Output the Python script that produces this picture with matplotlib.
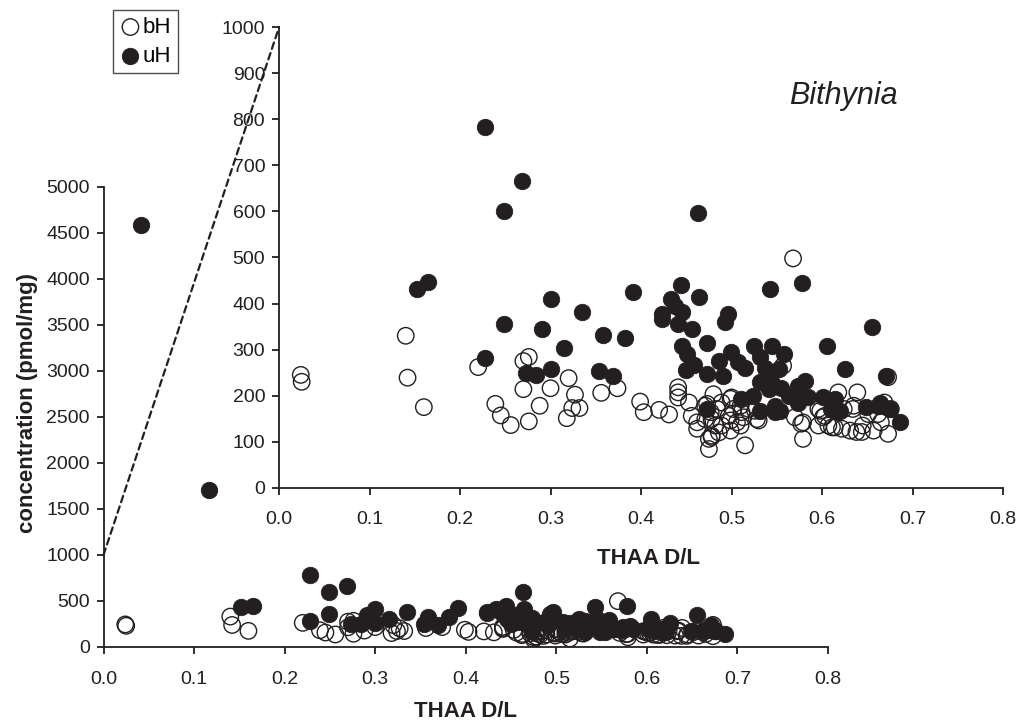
import matplotlib
matplotlib.use("Agg")
import matplotlib.pyplot as plt
from matplotlib.patches import ConnectionPatch

plt.rcParams['font.family'] = ['Liberation Sans', 'DejaVu Sans']

INK = '#231f20'

# bH (open) and uH (filled) concentrations against THAA D/L
bh_x = [0.024, 0.025, 0.140, 0.142, 0.160, 0.220, 0.239, 0.245, 0.256, 0.270,
        0.276, 0.270, 0.276, 0.300, 0.320, 0.327, 0.288, 0.318, 0.324, 0.332,
        0.356, 0.374, 0.399, 0.403, 0.420, 0.431, 0.441, 0.441, 0.441, 0.453,
        0.456, 0.462, 0.462, 0.473, 0.477, 0.478, 0.480, 0.475, 0.478, 0.475,
        0.568, 0.500, 0.489, 0.471, 0.511, 0.497, 0.506, 0.482, 0.478, 0.515,
        0.528, 0.557, 0.570, 0.579, 0.579, 0.596, 0.603, 0.596, 0.611, 0.622,
        0.618, 0.634, 0.639, 0.644, 0.657, 0.669, 0.673, 0.484, 0.499, 0.502,
        0.510, 0.519, 0.526, 0.530, 0.513, 0.499, 0.489, 0.471, 0.486, 0.499,
        0.510, 0.577, 0.598, 0.601, 0.607, 0.614, 0.631, 0.638, 0.645, 0.665,
        0.676, 0.662, 0.651, 0.635, 0.624, 0.673]
bh_y = [245, 230, 330, 239, 175, 262, 182, 157, 136, 275,
        284, 214, 144, 216, 238, 202, 178, 151, 173, 173,
        206, 216, 187, 164, 169, 159, 218, 207, 196, 185,
        156, 142, 128, 182, 164, 149, 203, 106, 110, 84,
        498, 196, 185, 178, 164, 156, 142, 135, 113, 92,
        149, 265, 153, 142, 106, 171, 156, 135, 131, 128,
        207, 171, 207, 121, 124, 185, 117, 171, 193, 171,
        178, 171, 167, 146, 153, 146, 135, 149, 120, 124,
        135, 139, 167, 153, 135, 131, 124, 121, 135, 142,
        171, 160, 160, 178, 171, 240]

uh_x = [0.041, 0.116, 0.228, 0.269, 0.249, 0.152, 0.165, 0.249, 0.228, 0.273,
        0.463, 0.444, 0.300, 0.391, 0.335, 0.433, 0.464, 0.438, 0.445, 0.423,
        0.423, 0.441, 0.456, 0.496, 0.493, 0.291, 0.315, 0.358, 0.382, 0.473,
        0.445, 0.451, 0.458, 0.450, 0.473, 0.486, 0.300, 0.284, 0.354, 0.369,
        0.473, 0.543, 0.578, 0.655, 0.605, 0.525, 0.545, 0.558, 0.499, 0.507,
        0.515, 0.532, 0.537, 0.552, 0.491, 0.625, 0.671, 0.581, 0.532, 0.544,
        0.555, 0.541, 0.574, 0.524, 0.510, 0.548, 0.563, 0.574, 0.585, 0.601,
        0.614, 0.618, 0.532, 0.548, 0.649, 0.664, 0.675, 0.686, 0.554, 0.566,
        0.610, 0.620, 0.662]
uh_y = [4580, 1700, 783, 667, 602, 432, 447, 355, 281, 249,
        597, 441, 409, 424, 382, 409, 415, 395, 382, 377,
        366, 356, 344, 377, 359, 344, 303, 331, 325, 314,
        308, 290, 266, 255, 247, 276, 258, 245, 254, 243,
        171, 431, 445, 348, 308, 307, 307, 290, 294, 272,
        261, 283, 261, 258, 243, 258, 243, 232, 229, 232,
        217, 214, 221, 200, 193, 178, 200, 185, 196, 196,
        193, 167, 167, 164, 175, 185, 171, 142, 167, 200,
        171, 167, 178]

x_ticks = [0.0, 0.1, 0.2, 0.3, 0.4, 0.5, 0.6, 0.7, 0.8]
main_yticks = list(range(0, 5001, 500))
inset_yticks = list(range(0, 1001, 100))

fig = plt.figure(figsize=(10.24, 7.28), dpi=100)
ax = fig.add_axes([0.1011, 0.1113, 0.7075, 0.6322])
ins = fig.add_axes([0.2725, 0.3301, 0.7070, 0.6324])
ins.patch.set_alpha(0)


def style(a, yticks, ymax):
    a.scatter(bh_x, bh_y, s=140, facecolors='none', edgecolors=INK,
              linewidths=1.0, zorder=3, label='bH')
    a.scatter(uh_x, uh_y, s=140, color=INK, edgecolors=INK,
              linewidths=0.6, zorder=4, label='uH')
    a.set_xlim(0, 0.8)
    a.set_ylim(0, ymax)
    a.set_xticks(x_ticks)
    a.set_xticklabels([f"{t:.1f}" for t in x_ticks])
    a.set_yticks(yticks)
    for side in ['top', 'right']:
        a.spines[side].set_visible(False)
    for side in ['left', 'bottom']:
        a.spines[side].set_color(INK)
        a.spines[side].set_linewidth(1.3)
    a.tick_params(direction='out', length=5, width=1.3, color=INK,
                  labelsize=14, labelcolor=INK, pad=5)


style(ax, main_yticks, 5000)
style(ins, inset_yticks, 1000)
ax.tick_params(axis='x', pad=12)
ins.tick_params(axis='x', pad=12)

ax.set_ylabel('concentration (pmol/mg)', fontsize=16, fontweight='bold', color=INK)
ax.yaxis.set_label_coords(-0.09, 0.53)
ax.set_xlabel('THAA D/L', fontsize=16, fontweight='bold', color=INK)
ax.xaxis.set_label_coords(0.5, -0.118)
ins.set_xlabel('THAA D/L', fontsize=16, fontweight='bold', color=INK)
ins.xaxis.set_label_coords(0.51, -0.13)

ins.text(0.78, 0.85, 'Bithynia', transform=ins.transAxes, fontsize=22,
         style='italic', color=INK, ha='center', va='center')

# dashed guide from 1000 on the full axis to the top of the zoomed axis
con = ConnectionPatch(xyA=(0, 1000), coordsA=ax.transData,
                      xyB=(0, 1000), coordsB=ins.transData,
                      linestyle=(0, (3, 2)), color=INK, linewidth=1.6)
fig.add_artist(con)

leg = ax.legend(loc='upper left', bbox_to_anchor=(0.110, 0.986),
                bbox_transform=fig.transFigure, fontsize=16, frameon=True,
                fancybox=False, borderaxespad=0, borderpad=0.3,
                handletextpad=0.05, handlelength=1.0, labelspacing=0.35,
                markerscale=1.0)
leg.get_frame().set_edgecolor(INK)
leg.get_frame().set_linewidth(1.0)

fig.savefig('out.png', dpi=100)
